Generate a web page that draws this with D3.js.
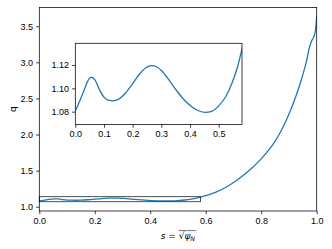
<!DOCTYPE html>
<html>
<head>
<meta charset="utf-8">
<script src="https://cdn.jsdelivr.net/npm/d3@7"></script>
<style>
  body { margin: 0; background: #fff; }
  svg { display: block; font-family: 'DejaVu Sans', sans-serif; }
  .tick text { font-size: 9px; fill: #000; }
  .tick line { stroke: #000; stroke-width: 0.75; }
</style>
</head>
<body>
<main></main>
<script>
// q profile vs s = sqrt(psi_N)
const sValues = [
  0.000, 0.015, 0.030, 0.042, 0.055, 0.068, 0.085, 0.100, 0.115, 0.132,
  0.150, 0.175, 0.200, 0.225, 0.245, 0.266, 0.285, 0.305, 0.330, 0.355,
  0.380, 0.405, 0.430, 0.454, 0.475, 0.500, 0.525, 0.548, 0.566, 0.581,
  0.633, 0.681, 0.7415, 0.8017, 0.8317, 0.8497, 0.868, 0.892, 0.9218, 0.946,
  0.964, 0.9733, 0.982, 0.990, 0.9964, 0.9985, 1.000
];
const qValues = [
  1.0805, 1.0890, 1.0980, 1.1055, 1.1094, 1.1075, 1.0985, 1.0925, 1.0898, 1.0893,
  1.0905, 1.0960, 1.1040, 1.1125, 1.1175, 1.1194, 1.1183, 1.1140, 1.1060, 1.0975,
  1.0900, 1.0845, 1.0808, 1.0794, 1.0803, 1.0850, 1.0930, 1.1055, 1.1185, 1.1335,
  1.194, 1.286, 1.452, 1.670, 1.807, 1.906, 2.025, 2.212, 2.495, 2.775,
  3.030, 3.200, 3.300, 3.355, 3.468, 3.560, 3.640
];

const xTicks = [0, 0.2, 0.4, 0.6, 0.8, 1.0];
const yTicks = [1.0, 1.5, 2.0, 2.5, 3.0, 3.5];
const insetXTicks = [0, 0.1, 0.2, 0.3, 0.4, 0.5];
const insetYTicks = [1.08, 1.10, 1.12];
const insetS = [0, 0.5814];
const insetQ = [1.069, 1.1386];

const W = 332;
const H = 249;
const BLUE = '#1f77b4';
const FS = 9;

const data = sValues.map((s, i) => ({ s, q: qValues[i] }));

const $svg = d3.select('main').append('svg')
  .attr('width', W)
  .attr('height', H);
const $defs = $svg.append('defs');

// main axes
const scaleX = d3.scaleLinear().domain([0, 1]).range([39.3, 316.7]);
const scaleY = d3.scaleLinear().domain([0.9405, 3.759]).range([211, 7.5]);

const line = d3.line()
  .x(d => scaleX(d.s))
  .y(d => scaleY(d.q))
  .curve(d3.curveMonotoneX);

$defs.append('clipPath').attr('id', 'clip-main')
  .append('rect')
  .attr('x', scaleX(0)).attr('y', scaleY.range()[1])
  .attr('width', scaleX(1) - scaleX(0))
  .attr('height', scaleY.range()[0] - scaleY.range()[1]);

$svg.append('path')
  .datum(data)
  .attr('clip-path', 'url(#clip-main)')
  .attr('fill', 'none')
  .attr('stroke', BLUE)
  .attr('stroke-width', 1.3)
  .attr('d', line);

// inset indicator box
$svg.append('rect')
  .attr('x', scaleX(insetS[0]))
  .attr('y', scaleY(insetQ[1]))
  .attr('width', scaleX(insetS[1]) - scaleX(insetS[0]))
  .attr('height', scaleY(insetQ[0]) - scaleY(insetQ[1]))
  .attr('fill', 'none')
  .attr('stroke', '#222')
  .attr('stroke-width', 0.8);

const fmt1 = d3.format('.1f');
const fmt2 = d3.format('.2f');

$svg.append('g')
  .attr('transform', `translate(0, ${scaleY.range()[0]})`)
  .call(d3.axisBottom(scaleX).tickValues(xTicks).tickFormat(fmt1).tickSize(3.2).tickPadding(3));
$svg.append('g')
  .attr('transform', `translate(${scaleX.range()[0]}, 0)`)
  .call(d3.axisLeft(scaleY).tickValues(yTicks).tickFormat(fmt1).tickSize(3.2).tickPadding(3));
$svg.selectAll('.domain').remove();

$svg.append('rect')
  .attr('x', scaleX.range()[0])
  .attr('y', scaleY.range()[1])
  .attr('width', scaleX.range()[1] - scaleX.range()[0])
  .attr('height', scaleY.range()[0] - scaleY.range()[1])
  .attr('fill', 'none')
  .attr('stroke', '#000')
  .attr('stroke-width', 0.75);

// axis labels
$svg.append('text')
  .attr('transform', `translate(13, ${(scaleY.range()[0] + scaleY.range()[1]) / 2}) rotate(-90)`)
  .attr('text-anchor', 'middle')
  .attr('dy', '0.35em')
  .style('font-size', FS + 'px')
  .text('q');

const $xlab = $svg.append('g');
const $xt = $xlab.append('text')
  .attr('y', 239)
  .style('font-size', FS + 'px');
$xt.append('tspan').style('font-style', 'italic').text('s');
$xt.append('tspan').text(' = \u221A');
$xt.append('tspan').style('font-style', 'italic').text('\u03C8');
$xt.append('tspan').style('font-style', 'italic').style('font-size', (FS * 0.7) + 'px')
  .attr('dy', 1.6).text('N');
const bb = $xt.node().getBBox();
const cx = (scaleX.range()[0] + scaleX.range()[1]) / 2;
$xt.attr('x', cx - bb.width / 2);
const bb2 = $xt.node().getBBox();
const psiStart = $xt.node().getStartPositionOfChar(4).x;
$xlab.append('line')
  .attr('x1', psiStart).attr('x2', bb2.x + bb2.width + 0.5)
  .attr('y1', 230.6).attr('y2', 230.6)
  .attr('stroke', '#000').attr('stroke-width', 0.55);

// inset axes
const insetX = d3.scaleLinear().domain(insetS).range([75.3, 242]);
const insetY = d3.scaleLinear().domain(insetQ).range([124.5, 43.3]);

const $inset = $svg.append('g').attr('class', 'g-inset');

$inset.append('rect')
  .attr('x', 75.3).attr('y', 43.3)
  .attr('width', 242 - 75.3).attr('height', 124.5 - 43.3)
  .attr('fill', '#fff');

$defs.append('clipPath').attr('id', 'clip-inset')
  .append('rect')
  .attr('x', 75.3).attr('y', 43.3)
  .attr('width', 242 - 75.3).attr('height', 124.5 - 43.3);

const insetLine = d3.line()
  .x(d => insetX(d.s))
  .y(d => insetY(d.q))
  .curve(d3.curveMonotoneX);

$inset.append('path')
  .datum(data.filter(d => d.s <= 0.65))
  .attr('clip-path', 'url(#clip-inset)')
  .attr('fill', 'none')
  .attr('stroke', BLUE)
  .attr('stroke-width', 1.3)
  .attr('d', insetLine);

$inset.append('g')
  .attr('transform', `translate(0, ${insetY.range()[0]})`)
  .call(d3.axisBottom(insetX).tickValues(insetXTicks).tickFormat(fmt1).tickSize(3.2).tickPadding(3));
$inset.append('g')
  .attr('transform', `translate(${insetX.range()[0]}, 0)`)
  .call(d3.axisLeft(insetY).tickValues(insetYTicks).tickFormat(fmt2).tickSize(3.2).tickPadding(3));
$inset.selectAll('.domain').remove();

$inset.append('rect')
  .attr('x', 75.3).attr('y', 43.3)
  .attr('width', 242 - 75.3).attr('height', 124.5 - 43.3)
  .attr('fill', 'none')
  .attr('stroke', '#000')
  .attr('stroke-width', 0.75);
</script>
</body>
</html>
